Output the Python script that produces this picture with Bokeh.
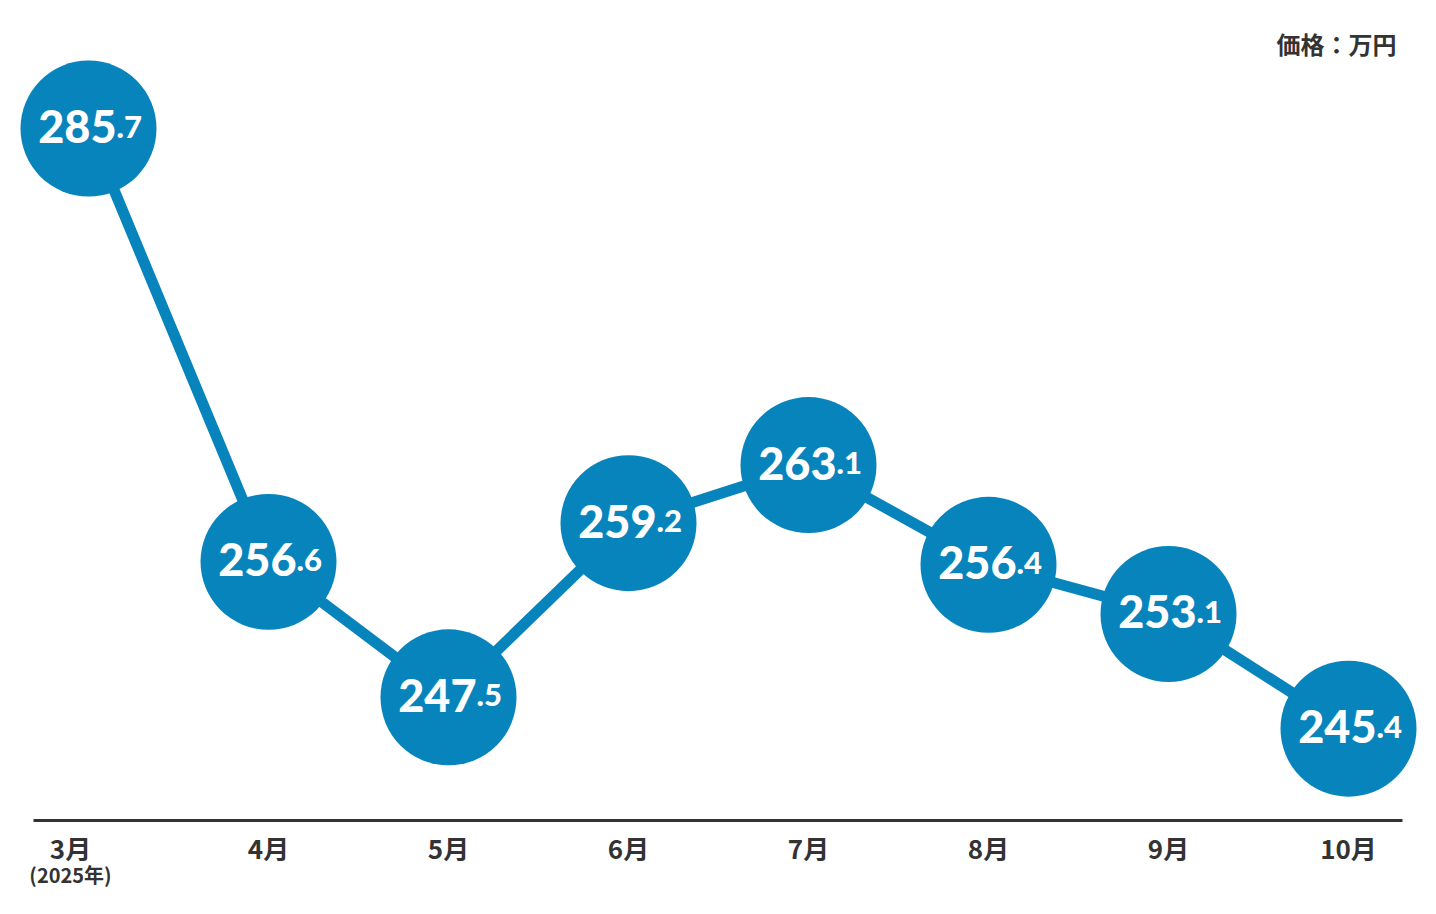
from bokeh.plotting import figure
from bokeh.models import ColumnDataSource, FixedTicker, Label, Range1d, LinearAxis
from bokeh.core.properties import value
from bokeh.embed import file_html
from bokeh.resources import INLINE

# ---- data ----
months = ["3月", "4月", "5月", "6月", "7月", "8月", "9月", "10月"]
year_note = "(2025年)"
prices = [285.7, 256.6, 247.5, 259.2, 263.1, 256.4, 253.1, 245.4]
unit_label = "価格：万円"

xs = list(range(len(months)))
int_parts = [f"{v:.1f}".split(".")[0] for v in prices]
dec_parts = ["." + f"{v:.1f}".split(".")[1] for v in prices]

BLUE = "#0884bd"
DARK = "#333333"
JP = "Noto Sans CJK JP"
NUM = "Lato Black"

W, H = 1420, 898
BOTTOM = 78
FIRST_SHIFT = -0.1  # first month label sits slightly left (aligned with year note)

p = figure(width=W, height=H, output_backend="svg", toolbar_location=None,
           x_range=Range1d(-0.4889, 7.4), y_range=Range1d(239.23, 294.30),
           min_border_left=0, min_border_right=0, min_border_top=0,
           min_border_bottom=BOTTOM, outline_line_color=None,
           background_fill_color="white", border_fill_color="white")
p.grid.visible = False
p.yaxis.visible = False

tick_pos = [FIRST_SHIFT] + xs[1:]
xa = p.xaxis[0]
xa.ticker = FixedTicker(ticks=tick_pos)
xa.bounds = (-0.3056, 7.3)
xa.major_label_overrides = {t: m for t, m in zip(tick_pos, months)}
xa.axis_line_color = DARK
xa.axis_line_width = 3
xa.major_tick_line_color = None
xa.minor_tick_line_color = None
xa.major_tick_in = 0
xa.major_tick_out = 0
xa.major_label_standoff = 8
xa.major_label_text_font = JP
xa.major_label_text_font_size = "26px"
xa.major_label_text_font_style = "bold"
xa.major_label_text_color = DARK

xa2 = LinearAxis(ticker=FixedTicker(ticks=[FIRST_SHIFT]),
                 major_label_overrides={FIRST_SHIFT: year_note},
                 axis_line_color=None, major_tick_line_color=None,
                 minor_tick_line_color=None, major_tick_in=0, major_tick_out=0,
                 major_label_standoff=-9, major_label_text_font=JP,
                 major_label_text_font_size="20px", major_label_text_font_style="bold",
                 major_label_text_color=DARK)
p.add_layout(xa2, "below")

src = ColumnDataSource(dict(x=xs, y=prices, ip=int_parts, dp=dec_parts))

p.line("x", "y", source=src, line_color=BLUE, line_width=11)
p.scatter("x", "y", source=src, size=136, fill_color=BLUE, line_color=None)

p.text("x", "y", text="ip", source=src, text_align="right", text_baseline="alphabetic",
       x_offset=28, y_offset=-2, text_font=value(NUM), text_font_style="normal",
       text_font_size="45px", text_color="white")
p.text("x", "y", text="dp", source=src, text_align="left", text_baseline="alphabetic",
       x_offset=28, y_offset=-2, text_font=value(NUM), text_font_style="normal",
       text_font_size="31px", text_color="white")

# unit label, top right
p.add_layout(Label(x=7.4, y=294.30, text=unit_label, x_offset=-24, y_offset=-43,
                   text_align="right", text_baseline="alphabetic", text_font=JP,
                   text_font_size="24px", text_font_style="bold", text_color=DARK))

open("out.html", "w").write(file_html(p, INLINE))
